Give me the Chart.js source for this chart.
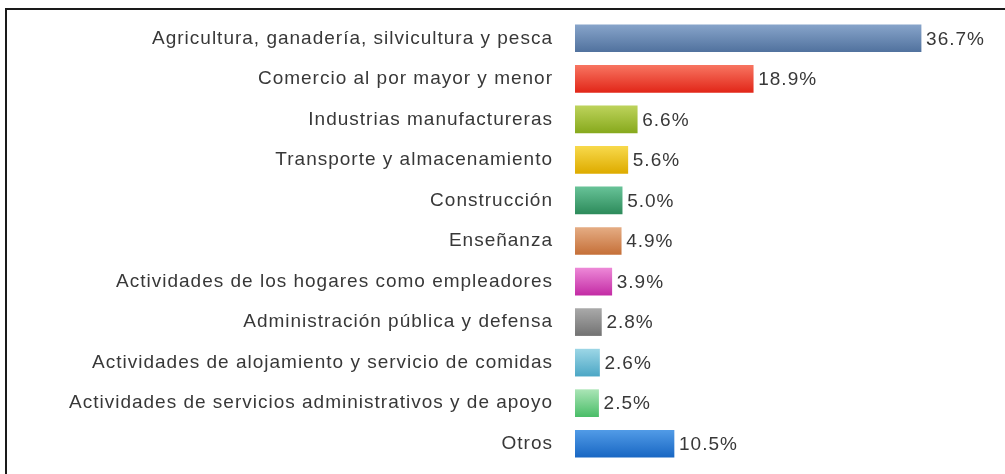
<!DOCTYPE html>
<html>
<head>
<meta charset="utf-8">
<script src="https://cdn.jsdelivr.net/npm/chart.js@4/dist/chart.umd.min.js"></script>
<style>
  html, body { margin: 0; padding: 0; background: #fff; overflow: hidden; }
  canvas { display: block; }
</style>
</head>
<body>
<canvas id="myChart" width="1005" height="474"></canvas>
<script>
// categorías y valores (%)
const categorias = [
  "Agricultura, ganadería, silvicultura y pesca",
  "Comercio al por mayor y menor",
  "Industrias manufactureras",
  "Transporte y almacenamiento",
  "Construcción",
  "Enseñanza",
  "Actividades de los hogares como empleadores",
  "Administración pública y defensa",
  "Actividades de alojamiento y servicio de comidas",
  "Actividades de servicios administrativos y de apoyo",
  "Otros"
];
const valores = [36.7, 18.9, 6.6, 5.6, 5.0, 4.9, 3.9, 2.8, 2.6, 2.5, 10.5];

// colores degradados: [arriba, abajo]
const coloresArriba = ["#86a3c9", "#f7735f", "#bcd25a", "#f7d84a", "#66c196", "#e4ab82", "#ec86d6", "#a8a8a8", "#9ad5e5", "#a8e4b4", "#509ae6"];
const coloresAbajo = ["#52739f", "#e2281a", "#88aa1e", "#deac00", "#2e8c5c", "#c6713a", "#c42ea6", "#747474", "#4ea8c6", "#4cbe6a", "#1a68c4"];

function degradado(context) {
  const chart = context.chart;
  const i = context.dataIndex;
  if (!chart.chartArea || i === undefined) return coloresAbajo[i] || "#888";
  const y = chart.scales.y.getPixelForValue(i);
  const g = chart.ctx.createLinearGradient(0, y - 13, 0, y + 13);
  g.addColorStop(0, coloresArriba[i]);
  g.addColorStop(1, coloresAbajo[i]);
  return g;
}

// marco, espaciado de letras y etiquetas de valor
const extras = {
  id: "extras",
  beforeDraw(chart) {
    const ctx = chart.ctx;
    ctx.letterSpacing = "1px";
    ctx.save();
    ctx.strokeStyle = "#1a1a1a";
    ctx.lineWidth = 2;
    ctx.beginPath();
    ctx.moveTo(6, 480);
    ctx.lineTo(6, 9);
    ctx.lineTo(1010, 9);
    ctx.stroke();
    ctx.restore();
  },
  afterDatasetsDraw(chart) {
    const ctx = chart.ctx;
    const meta = chart.getDatasetMeta(0);
    ctx.save();
    ctx.font = "19px 'Liberation Sans', Arial, sans-serif";
    ctx.fillStyle = "#383838";
    ctx.textBaseline = "middle";
    meta.data.forEach((bar, i) => {
      ctx.fillText(valores[i].toFixed(1) + "%", bar.x + 5, bar.y + 1);
    });
    ctx.restore();
  }
};

const config = {
  type: "bar",
  data: {
    labels: categorias,
    datasets: [{
      data: valores,
      backgroundColor: degradado,
      borderWidth: 0,
      barThickness: 27
    }]
  },
  options: {
    indexAxis: "y",
    responsive: false,
    animation: false,
    layout: { padding: { top: 18, bottom: 10, left: 0, right: 20 } },
    plugins: { legend: false, tooltip: { enabled: false } },
    scales: {
      x: { display: false, min: 0, max: 43.48 },
      y: {
        grid: { display: false },
        border: { display: false },
        ticks: {
          color: "#383838",
          padding: 14,
          font: { family: "'Liberation Sans', Arial, sans-serif", size: 19 }
        },
        afterFit(scale) {
          scale.width = 575;
          scale.paddingTop = 0;
          scale.paddingBottom = 0;
        }
      }
    }
  },
  plugins: [extras]
};

const context = document.getElementById("myChart").getContext("2d");
const chart = new Chart(context, config);
</script>
</body>
</html>
